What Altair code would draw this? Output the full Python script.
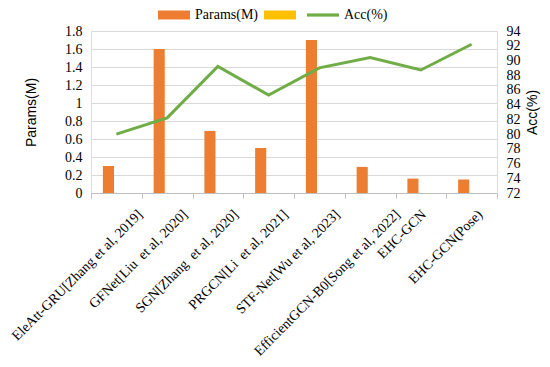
import altair as alt
import pandas as pd

methods = [
    "EleAtt-GRU[Zhang et al, 2019]",
    "GFNet[Liu\u00a0 et al, 2020]",
    "SGN[Zhang\u00a0 et al, 2020]",
    "PRGCN[Li\u00a0 et al, 2021]",
    "STF-Net[Wu et al, 2023]",
    "EfficientGCN-B0[Song et al, 2022]",
    "EHC-GCN",
    "EHC-GCN(Pose)",
]
params = [0.30, 1.60, 0.69, 0.50, 1.70, 0.29, 0.16, 0.15]
acc = [80.0, 82.2, 89.2, 85.3, 89.0, 90.4, 88.7, 92.2]
left_ticks = [0, 0.2, 0.4, 0.6, 0.8, 1.0, 1.2, 1.4, 1.6, 1.8]
right_ticks = list(range(72, 95, 2))
legend_names = ["Params(M)", " ", "Acc(%)"]
legend_colors = ["#ED7D31", "#FFC000", "#70AD47"]

df = pd.DataFrame({"method": methods, "params": params, "acc": acc,
                   "sub": ["Params(M)"] * len(methods), "lg": ["Acc(%)"] * len(methods)})

SERIF = "Liberation Serif"
SANS = "Liberation Sans"

x_enc = alt.X("method:N", sort=methods,
              scale=alt.Scale(paddingInner=0, paddingOuter=0),
              axis=alt.Axis(title=None, labelAngle=-45, labelAlign="right", labelBaseline="middle",
                            labelFont=SERIF, labelFontSize=14, labelColor="#000",
                            labelPadding=14,
                            labelOffset=alt.ExprRef("length(datum.label) * 0.95 - 4"),
                            tickBand="extent", ticks=True, tickSize=5,
                            tickColor="#bfbfbf", domainColor="#bfbfbf", labelLimit=300, labelOverlap=False))

bars = alt.Chart(df).mark_bar(color="#ED7D31").encode(
    x=x_enc,
    xOffset=alt.XOffset("sub:N", scale=alt.Scale(domain=["Params(M)", " "], paddingInner=0.3, paddingOuter=0.75)),
    y=alt.Y("params:Q", scale=alt.Scale(domain=[0, 1.8], nice=False),
            axis=alt.Axis(title="Params(M)", values=left_ticks, format="~g", grid=True, gridColor="#d9d9d9",
                          domain=False, ticks=False, labelFont=SERIF, labelFontSize=14, labelColor="#000",
                          labelPadding=9, titleFont=SANS, titleFontSize=14, titleFontWeight="normal",
                          titleColor="#000", titlePadding=26)),
)

line = alt.Chart(df).mark_line(color="#70AD47", strokeWidth=3).encode(
    x=alt.X("method:N", sort=methods),
    y=alt.Y("acc:Q", scale=alt.Scale(domain=[72, 94], nice=False),
            axis=alt.Axis(title="Acc(%)", orient="right", values=right_ticks, grid=False, domain=False,
                          ticks=False, labelFont=SERIF, labelFontSize=14, labelColor="#000", labelPadding=9,
                          titleFont=SANS, titleFontSize=14, titleFontWeight="normal", titleColor="#000",
                          titleAngle=270, titlePadding=19)),
)

leg = dict(title=None, orient="none", direction="horizontal",
           legendX=67, legendY=-32, labelFont=SERIF, labelFontSize=14,
           labelColor="#000", symbolSize=1024, symbolStrokeWidth=0,
           labelOffset=5, columnPadding=6)

legend_layer = alt.Chart(df).mark_point(filled=True, size=0, opacity=1).encode(
    x=alt.X("method:N", sort=methods),
    color=alt.Color("lg:N", scale=alt.Scale(domain=legend_names, range=legend_colors),
                    legend=alt.Legend(**leg)),
    shape=alt.Shape("lg:N", scale=alt.Scale(domain=legend_names,
                                             range=["M-1,-0.28H1V0.28H-1Z", "M-1,-0.28H1V0.28H-1Z",
                                                    "M-1,-0.1H1V0.1H-1Z"]),
                    legend=alt.Legend(**leg)),
)

chart = alt.layer(bars, legend_layer, line).resolve_scale(y="independent").properties(
    width=406, height=162,
    autosize=alt.AutoSizeParams(type="none"),
    padding={"left": 83, "top": 23, "right": 45, "bottom": 166},
).configure_view(stroke=None).configure(background="white")

chart.save("out.html", embed_options={"renderer": "svg", "actions": False})
